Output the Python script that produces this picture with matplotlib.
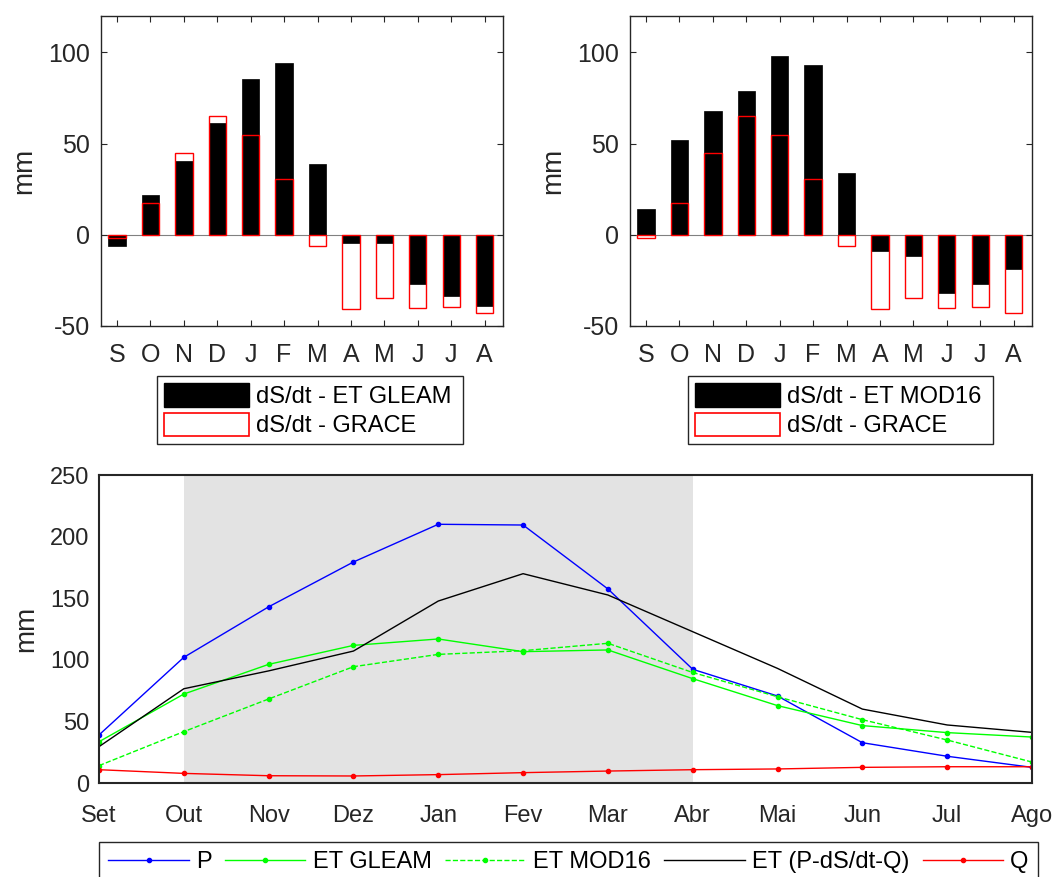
import matplotlib
matplotlib.use("Agg")
from matplotlib import pyplot as plt
from matplotlib.patches import Patch
import numpy as np

plt.rcParams["font.family"] = ["Liberation Sans", "DejaVu Sans"]
plt.rcParams["axes.unicode_minus"] = False

AXCOL = "#262626"

# top panels (hydrological year Sep..Aug)
bar_months = ["S", "O", "N", "D", "J", "F", "M", "A", "M", "J", "J", "A"]
ds_et_gleam = [-6.4, 21.6, 40.3, 61.4, 85.2, 94.0, 38.8, -4.6, -4.6, -27.1, -33.5, -39.0]
ds_et_mod16 = [14.1, 51.8, 67.9, 78.8, 98.0, 93.0, 33.9, -8.8, -11.7, -31.7, -27.1, -18.7]
ds_grace = [-1.8, 17.2, 44.9, 65.4, 54.9, 30.6, -5.9, -40.8, -34.4, -40.3, -39.4, -42.7]

# bottom panel
line_months = ["Set", "Out", "Nov", "Dez", "Jan", "Fev", "Mar", "Abr", "Mai", "Jun", "Jul", "Ago"]
p_vals = [39.0, 102.0, 143.0, 179.4, 210.0, 209.4, 157.5, 92.3, 70.6, 32.7, 21.7, 12.7]
et_gleam = [33.5, 72.2, 96.3, 111.7, 116.9, 106.6, 108.0, 84.7, 62.8, 46.6, 40.9, 37.3]
et_mod16 = [14.1, 41.7, 68.2, 94.4, 104.4, 107.4, 113.4, 89.7, 70.0, 51.4, 34.9, 17.0]
et_balance = [29.5, 76.5, 91.0, 107.1, 147.7, 169.9, 152.6, 122.8, 93.0, 60.0, 47.1, 41.1]
q_vals = [10.8, 7.8, 5.9, 5.7, 6.8, 8.4, 9.7, 10.8, 11.4, 12.7, 13.2, 13.2]

W, H = 1058, 877
fig = plt.figure(figsize=(W / 100, H / 100), dpi=100)


def rect(l, t, r, b):
    return [l / W, 1 - b / H, (r - l) / W, (b - t) / H]


def style_axes(ax, ticks=True):
    for s in ax.spines.values():
        s.set_color(AXCOL)
        s.set_linewidth(1.0)
    ax.tick_params(colors=AXCOL, labelcolor=AXCOL, direction="in",
                   top=ticks, right=ticks, length=4 if ticks else 0, width=0.8)


def bar_panel(ax, et_vals):
    x = np.arange(1, 13)
    ax.axhline(0, color="#808080", lw=0.8, zorder=1)
    ax.bar(x, et_vals, width=0.52, color="black", edgecolor="black", lw=0.5, zorder=2)
    ax.bar(x, ds_grace, width=0.52, facecolor="none", edgecolor="#ff0000", lw=1.0, zorder=3)
    ax.set_xlim(0.52, 12.55)
    ax.set_ylim(-50, 120)
    ax.set_yticks([-50, 0, 50, 100])
    ax.set_xticks(x)
    ax.set_xticklabels(bar_months)
    ax.tick_params(labelsize=18)
    ax.tick_params(axis="x", pad=12)
    ax.tick_params(axis="y", pad=8)
    ax.set_ylabel("mm", fontsize=20, color=AXCOL, labelpad=8)
    style_axes(ax)
    return [Patch(facecolor="black", edgecolor="black"),
            Patch(facecolor="white", edgecolor="#ff0000", lw=1.2)]


def bar_legend(handles, labels, left, right, top):
    fig.legend(handles, labels, loc="upper left",
               bbox_to_anchor=(left / W, 1 - top / H, (right - left) / W, 0), mode="expand",
               fontsize=17, frameon=True, fancybox=False, edgecolor=AXCOL, framealpha=1,
               handlelength=3.6, handleheight=1.15, handletextpad=0.3, borderpad=0.3,
               labelspacing=0.2, borderaxespad=0)


ax1 = fig.add_axes(rect(101, 16, 503, 326))
h1 = bar_panel(ax1, ds_et_gleam)
bar_legend(h1, ["dS/dt - ET GLEAM", "dS/dt - GRACE"], 157, 463, 376)

ax2 = fig.add_axes(rect(630, 16, 1032, 326))
h2 = bar_panel(ax2, ds_et_mod16)
bar_legend(h2, ["dS/dt - ET MOD16", "dS/dt - GRACE"], 688, 993, 376)

# bottom panel
ax3 = fig.add_axes(rect(99, 475, 1032, 783))
xm = np.arange(1, 13)
ax3.axvspan(2, 8, color="#e3e3e3", lw=0, zorder=0)
ax3.plot(xm, p_vals, color="#0000ff", lw=1.0, marker="o", ms=3, label="P")
ax3.plot(xm, et_gleam, color="#00ff00", lw=1.0, marker="o", ms=3, label="ET GLEAM")
ax3.plot(xm, et_mod16, color="#00ff00", lw=1.0, ls="--", marker="o", ms=3, label="ET MOD16")
ax3.plot(xm, et_balance, color="black", lw=1.0, label="ET (P-dS/dt-Q)")
ax3.plot(xm, q_vals, color="#ff0000", lw=1.0, marker="o", ms=3, label="Q")
ax3.set_xlim(1, 12)
ax3.set_ylim(0, 250)
ax3.set_xticks(xm)
ax3.set_xticklabels(line_months)
ax3.set_yticks(np.arange(0, 251, 50))
ax3.tick_params(labelsize=17)
ax3.tick_params(axis="x", pad=16)
ax3.tick_params(axis="y", pad=7)
ax3.set_ylabel("mm", fontsize=20, color=AXCOL, labelpad=8)
style_axes(ax3, ticks=False)
for s in ax3.spines.values():
    s.set_linewidth(1.5)
    s.set_zorder(5)

handles, labels = ax3.get_legend_handles_labels()
fig.legend(handles, labels, loc="upper left", ncol=5,
           bbox_to_anchor=(99 / W, 1 - 842 / H, (1038 - 99) / W, 0), mode="expand",
           fontsize=17, frameon=True, fancybox=False, edgecolor=AXCOL, framealpha=1,
           handlelength=3.4, handletextpad=0.3, columnspacing=0.6, borderpad=0.4,
           borderaxespad=0)

fig.savefig("out.png", dpi=100)
